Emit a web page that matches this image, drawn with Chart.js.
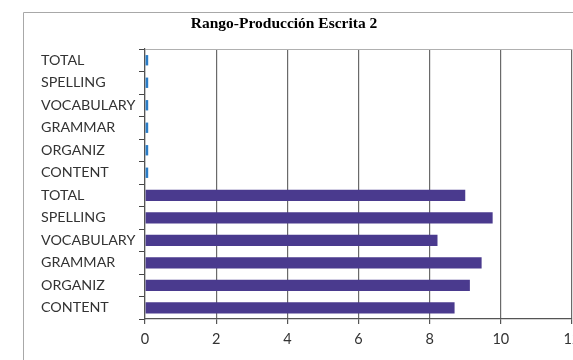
<!DOCTYPE html>
<html>
<head>
<meta charset="utf-8">
<script src="https://cdn.jsdelivr.net/npm/chart.js@4.4.1/dist/chart.umd.min.js"></script>
<style>
  html, body { margin: 0; padding: 0; background: #fff; }
  #wrap { width: 573px; height: 360px; position: relative; }
</style>
</head>
<body>
<div id="wrap"><canvas id="c" width="573" height="360"></canvas></div>
<script>
// Skill areas, listed top to bottom within each block
const skills = ['TOTAL', 'SPELLING', 'VOCABULARY', 'GRAMMAR', 'ORGANIZ', 'CONTENT'];
// Upper block (thin blue bars) and lower block (purple bars)
const upperValues = [0.09, 0.09, 0.09, 0.09, 0.09, 0.09];
const lowerValues = [9.0, 9.77, 8.22, 9.46, 9.13, 8.7];
const xTicks = [0, 2, 4, 6, 8, 10, 12];
const chartTitle = 'Rango-Producción Escrita 2';

const labels = skills.concat(skills);
const upperData = upperValues.concat(skills.map(() => null));
const lowerData = skills.map(() => null).concat(lowerValues);

// Outer frame of the chart box and the title inside it
const framePlugin = {
  id: 'frame',
  beforeDraw(chart) {
    const ctx = chart.ctx;
    ctx.save();
    ctx.strokeStyle = '#a8a8a8';
    ctx.lineWidth = 1;
    ctx.beginPath();
    ctx.moveTo(23.5, 360);
    ctx.lineTo(23.5, 12.5);
    ctx.lineTo(573, 12.5);
    ctx.stroke();
    ctx.fillStyle = '#000';
    ctx.font = 'bold 15.5px "Liberation Serif"';
    ctx.textAlign = 'center';
    ctx.textBaseline = 'alphabetic';
    ctx.fillText(chartTitle, 284, 28);
    ctx.restore();
  }
};

new Chart(document.getElementById('c'), {
  type: 'bar',
  data: {
    labels: labels,
    datasets: [
      { data: upperData, backgroundColor: '#2a7cc6', grouped: false,
        barPercentage: 0.46, categoryPercentage: 1 },
      { data: lowerData, backgroundColor: '#4a3a8e', grouped: false,
        barPercentage: 0.5, categoryPercentage: 1 }
    ]
  },
  options: {
    indexAxis: 'y',
    responsive: false,
    animation: false,
    layout: { padding: { left: 41, right: 1, top: 49, bottom: 0 } },
    plugins: {
      legend: { display: false },
      tooltip: { enabled: false },
      title: { display: false }
    },
    scales: {
      x: {
        min: 0, max: 12,
        afterBuildTicks(scale) { scale.ticks = xTicks.map(v => ({ value: v })); },
        afterFit(scale) {
          scale.height = 41;
          scale.paddingLeft = 0;
          scale.paddingRight = 0;
        },
        grid: { color: '#6a6a6a', lineWidth: 1.2, tickLength: 5, tickColor: '#555' },
        border: { color: '#555', width: 1.2 },
        ticks: { color: '#333', padding: 7, font: { family: 'Lato', size: 14.5 } }
      },
      y: {
        afterFit(scale) {
          scale.width = 104;
          scale.paddingTop = 0;
          scale.paddingBottom = 0;
        },
        grid: {
          offset: true,
          color: (ctx) => ctx.index === 0 ? '#b0b0b0' : 'rgba(0,0,0,0)',
          tickColor: '#444',
          tickLength: 6
        },
        border: { color: '#555', width: 1.2 },
        ticks: { color: '#333', crossAlign: 'far', autoSkip: false, font: { family: 'Lato', size: 14.3 } }
      }
    }
  },
  plugins: [framePlugin]
});
</script>
</body>
</html>
